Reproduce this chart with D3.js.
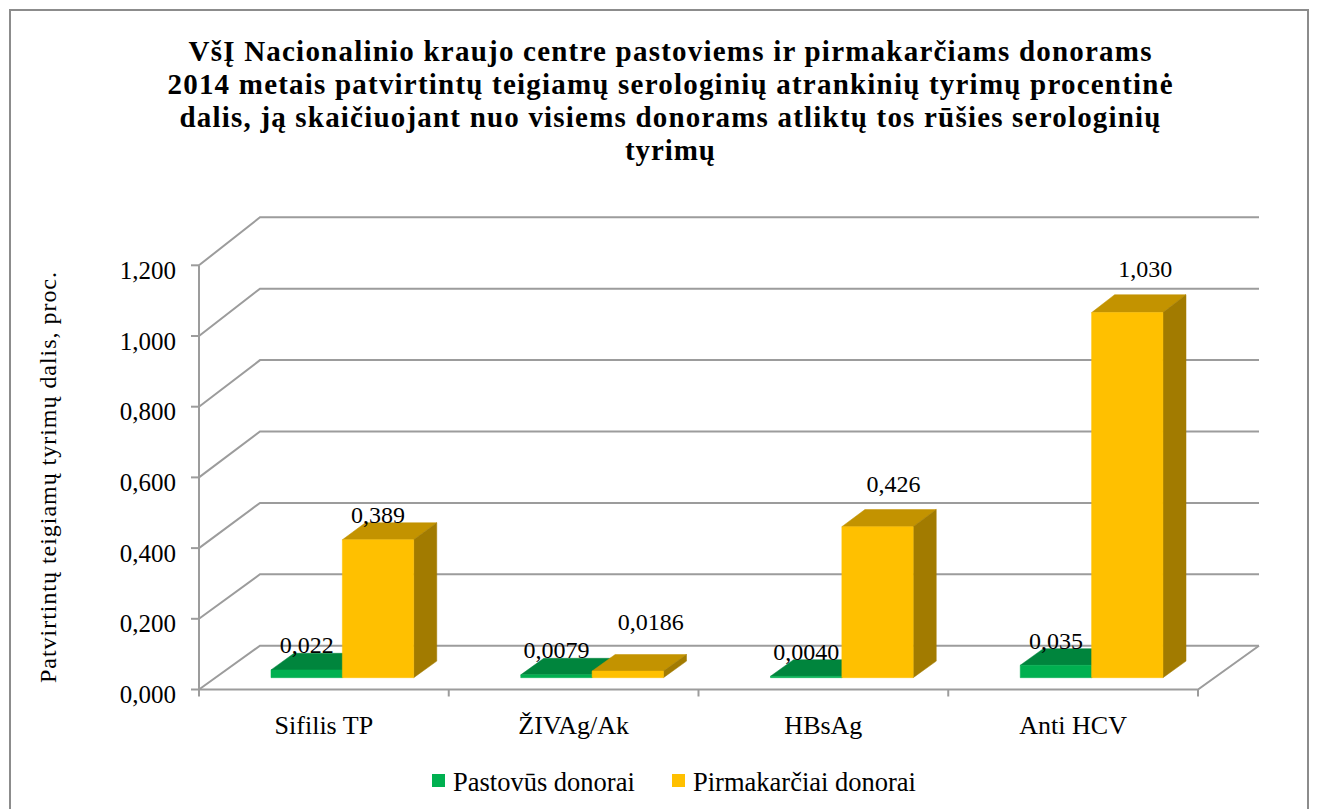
<!DOCTYPE html>
<html><head><meta charset="utf-8">
<script src="https://cdn.jsdelivr.net/npm/d3@7"></script>
<style>body{margin:0;background:#fff}svg{display:block}</style>
</head><body><svg id="c" width="1317" height="809"></svg>
<script>
// ---- data ----
const categories = ["Sifilis TP", "ŽIVAg/Ak", "HBsAg", "Anti HCV"];
const seriesNames = ["Pastovūs donorai", "Pirmakarčiai donorai"];
const pastovus = [0.022, 0.0079, 0.0040, 0.035];
const pirmakarciai = [0.389, 0.0186, 0.426, 1.030];
const pastovusLabels = ["0,022", "0,0079", "0,0040", "0,035"];
const pirmakarciaiLabels = ["0,389", "0,0186", "0,426", "1,030"];
const yTicks = [0, 0.2, 0.4, 0.6, 0.8, 1.0, 1.2];
const yTickLabels = ["0,000", "0,200", "0,400", "0,600", "0,800", "1,000", "1,200"];
const titleLines = [
  "VšĮ Nacionalinio kraujo centre pastoviems ir pirmakarčiams donorams",
  "2014 metais patvirtintų teigiamų serologinių atrankinių tyrimų procentinė",
  "dalis, ją skaičiuojant nuo visiems donorams atliktų tos rūšies serologinių",
  "tyrimų"
];
const yTitle = "Patvirtintų teigiamų tyrimų dalis, proc.";

// ---- layout / style ----
const FONT = "'Liberation Serif','Times New Roman',serif";
const GRID = "#9c9c9c";
const colors = [
  {front: "#00B050", top: "#00853D", side: "#006E32"},
  {front: "#FFC000", top: "#C39300", side: "#A27B00"}
];
const titleWidths = [963, 1005, 981, 90];
const labelShift = [[[0,0],[0,0],[0,0],[0,0]], [[0,0],[23,-25],[16,-18],[18,-18]]];
const DX = 61, ZF = 0.27, ZB = 0.648;

const svg = d3.select("#c");
const series = [pastovus, pirmakarciai];
const seriesLabels = [pastovusLabels, pirmakarciaiLabels];

const x0 = d3.scaleBand(categories, [199, 1198]);
const xs = d3.scaleBand([0, 1], [2, x0.bandwidth() + 2]).paddingOuter(0.75).paddingInner(0);
const yF = d3.scaleLinear([0, 1.2], [689.5, 265.3]);
const yB = d3.scaleLinear([0, 1.2], [645.7, 217.3]);
const proj = (x, v, z) => [x + z * DX, yF(v) + z * (yB(v) - yF(v))];
const line = d3.line();

// border
svg.append("rect").attr("x", 10).attr("y", 10).attr("width", 1298).attr("height", 830)
  .attr("fill", "#fff").attr("stroke", "#8c8c8c").attr("stroke-width", 2);

// title
svg.append("g").selectAll("text").data(titleLines).join("text")
  .attr("x", 670).attr("y", (d, i) => 60.7 + i * 33.1)
  .attr("text-anchor", "middle").attr("font-family", FONT).attr("font-weight", "bold")
  .attr("font-size", 29).attr("fill", "#000")
  .attr("textLength", (d, i) => titleWidths[i]).attr("lengthAdjust", "spacing")
  .text(d => d);

// walls gridlines
const gGrid = svg.append("g").attr("fill", "none").attr("stroke", GRID).attr("stroke-width", 2);
yTicks.forEach(v => {
  gGrid.append("path").attr("d", line([proj(199, v, 0), proj(199, v, 1), proj(1198, v, 1)]));
});
gGrid.append("path").attr("d", line([proj(199, 0, 0), proj(1198, 0, 0), proj(1198, 0, 1)]));
gGrid.append("path").attr("d", line([[199, yF(1.2)], [199, yF(0) + 7]]));
yTicks.forEach(v => gGrid.append("path").attr("d", line([[191, yF(v)], [199, yF(v)]])));
categories.forEach(c => {
  const xr = x0(c) + x0.bandwidth();
  gGrid.append("path").attr("d", line([[xr, yF(0)], [xr, yF(0) + 7]]));
});

// y tick labels
svg.append("g").selectAll("text").data(yTicks).join("text")
  .attr("x", 176).attr("y", v => yF(v) + 5).attr("dominant-baseline", "central")
  .attr("text-anchor", "end").attr("font-family", FONT).attr("font-size", 25).attr("fill", "#000")
  .text((v, i) => yTickLabels[i]);

// y title
svg.append("text").attr("transform", "translate(56,683) rotate(-90)")
  .attr("font-family", FONT).attr("font-size", 24).attr("fill", "#000")
  .attr("textLength", 411).attr("lengthAdjust", "spacing").text(yTitle);

// bars
const gBars = svg.append("g");
categories.forEach((c, i) => {
  series.forEach((vals, s) => {
    const v = vals[i];
    const xl = x0(c) + xs(s), xr = xl + xs.bandwidth();
    const col = colors[s];
    const top = [proj(xl, v, ZF), proj(xr, v, ZF), proj(xr, v, ZB), proj(xl, v, ZB)];
    const side = [proj(xr, 0, ZF), proj(xr, 0, ZB), proj(xr, v, ZB), proj(xr, v, ZF)];
    const front = [proj(xl, 0, ZF), proj(xr, 0, ZF), proj(xr, v, ZF), proj(xl, v, ZF)];
    gBars.append("path").attr("d", line(top) + "Z").attr("fill", col.top).attr("stroke", col.top).attr("stroke-width", 0.5);
    gBars.append("path").attr("d", line(side) + "Z").attr("fill", col.side).attr("stroke", col.side).attr("stroke-width", 0.5);
    gBars.append("path").attr("d", line(front) + "Z").attr("fill", col.front).attr("stroke", col.front).attr("stroke-width", 0.5);
  });
});

// data labels
const gLab = svg.append("g").attr("font-family", FONT).attr("font-size", 24).attr("fill", "#000").attr("text-anchor", "middle");
categories.forEach((c, i) => {
  series.forEach((vals, s) => {
    const v = vals[i];
    const xl = x0(c) + xs(s), xr = xl + xs.bandwidth();
    const cx = (xl + xr) / 2 + ZF * DX;
    const by = proj(xl, v, ZB)[1];
    const sh = labelShift[s][i];
    gLab.append("text").attr("x", cx + sh[0]).attr("y", by + sh[1]).text(seriesLabels[s][i]);
  });
});

// category labels
svg.append("g").selectAll("text").data(categories).join("text")
  .attr("x", c => x0(c) + x0.bandwidth() / 2).attr("y", 734)
  .attr("text-anchor", "middle").attr("font-family", FONT).attr("font-size", 26).attr("fill", "#000")
  .text(c => c);

// legend
const legX = [432, 672];
const gLeg = svg.append("g");
seriesNames.forEach((n, s) => {
  gLeg.append("rect").attr("x", legX[s]).attr("y", 774).attr("width", 13).attr("height", 13).attr("fill", colors[s].front);
  gLeg.append("text").attr("x", legX[s] + 21).attr("y", 791).attr("font-family", FONT)
    .attr("font-size", 26.5).attr("fill", "#000").text(n);
});
</script></body></html>
